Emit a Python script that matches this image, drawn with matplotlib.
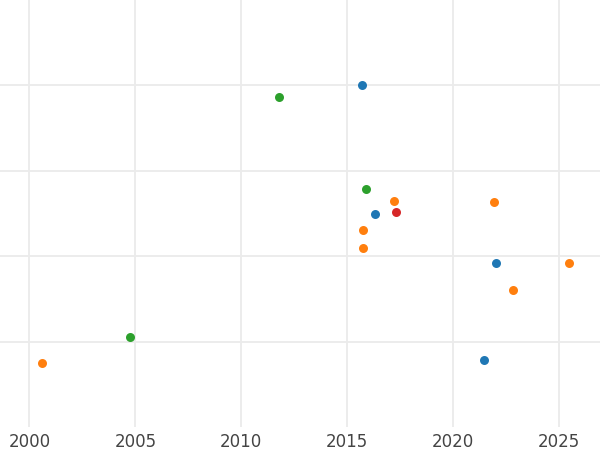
import numpy as np
import matplotlib
matplotlib.use("Agg")
import matplotlib.pyplot as plt

# ---- data ----
blue_x = [2015.70, 2016.31, 2022.03, 2021.46]
blue_y = [4.00, 2.50, 1.92, 0.78]
orange_x = [2017.21, 2021.93, 2015.75, 2015.75, 2025.48, 2022.83, 2000.59]
orange_y = [2.65, 2.63, 2.31, 2.10, 1.92, 1.60, 0.75]
green_x = [2011.78, 2015.89, 2004.75]
green_y = [3.86, 2.79, 1.05]
red_x = [2017.31]
red_y = [2.52]

x_ticks = [2000, 2005, 2010, 2015, 2020, 2025]
y_ticks = [1, 2, 3, 4]

fig = plt.figure(figsize=(6, 4.5), dpi=100)
ax = fig.add_axes([0, 1 - 427 / 450, 1, 427 / 450])

for xs, ys, c in [(blue_x, blue_y, "#1f77b4"),
                  (orange_x, orange_y, "#ff7f0e"),
                  (green_x, green_y, "#2ca02c"),
                  (red_x, red_y, "#d62728")]:
    ax.scatter(xs, ys, s=42, color=c, linewidths=0, zorder=3)

ax.set_xlim(1998.61, 2026.94)
ax.set_ylim(0, 5)
ax.set_xticks(x_ticks)
ax.set_xticklabels([str(t) for t in x_ticks])
ax.set_yticks(y_ticks)
ax.set_yticklabels([])
ax.grid(True, color="#ebebeb", linewidth=1.3, zorder=0)
ax.set_axisbelow(True)
ax.tick_params(length=0, labelsize=12, labelcolor="#444444", pad=4)
for s in ax.spines.values():
    s.set_visible(False)

fig.savefig("out.png", dpi=100)
